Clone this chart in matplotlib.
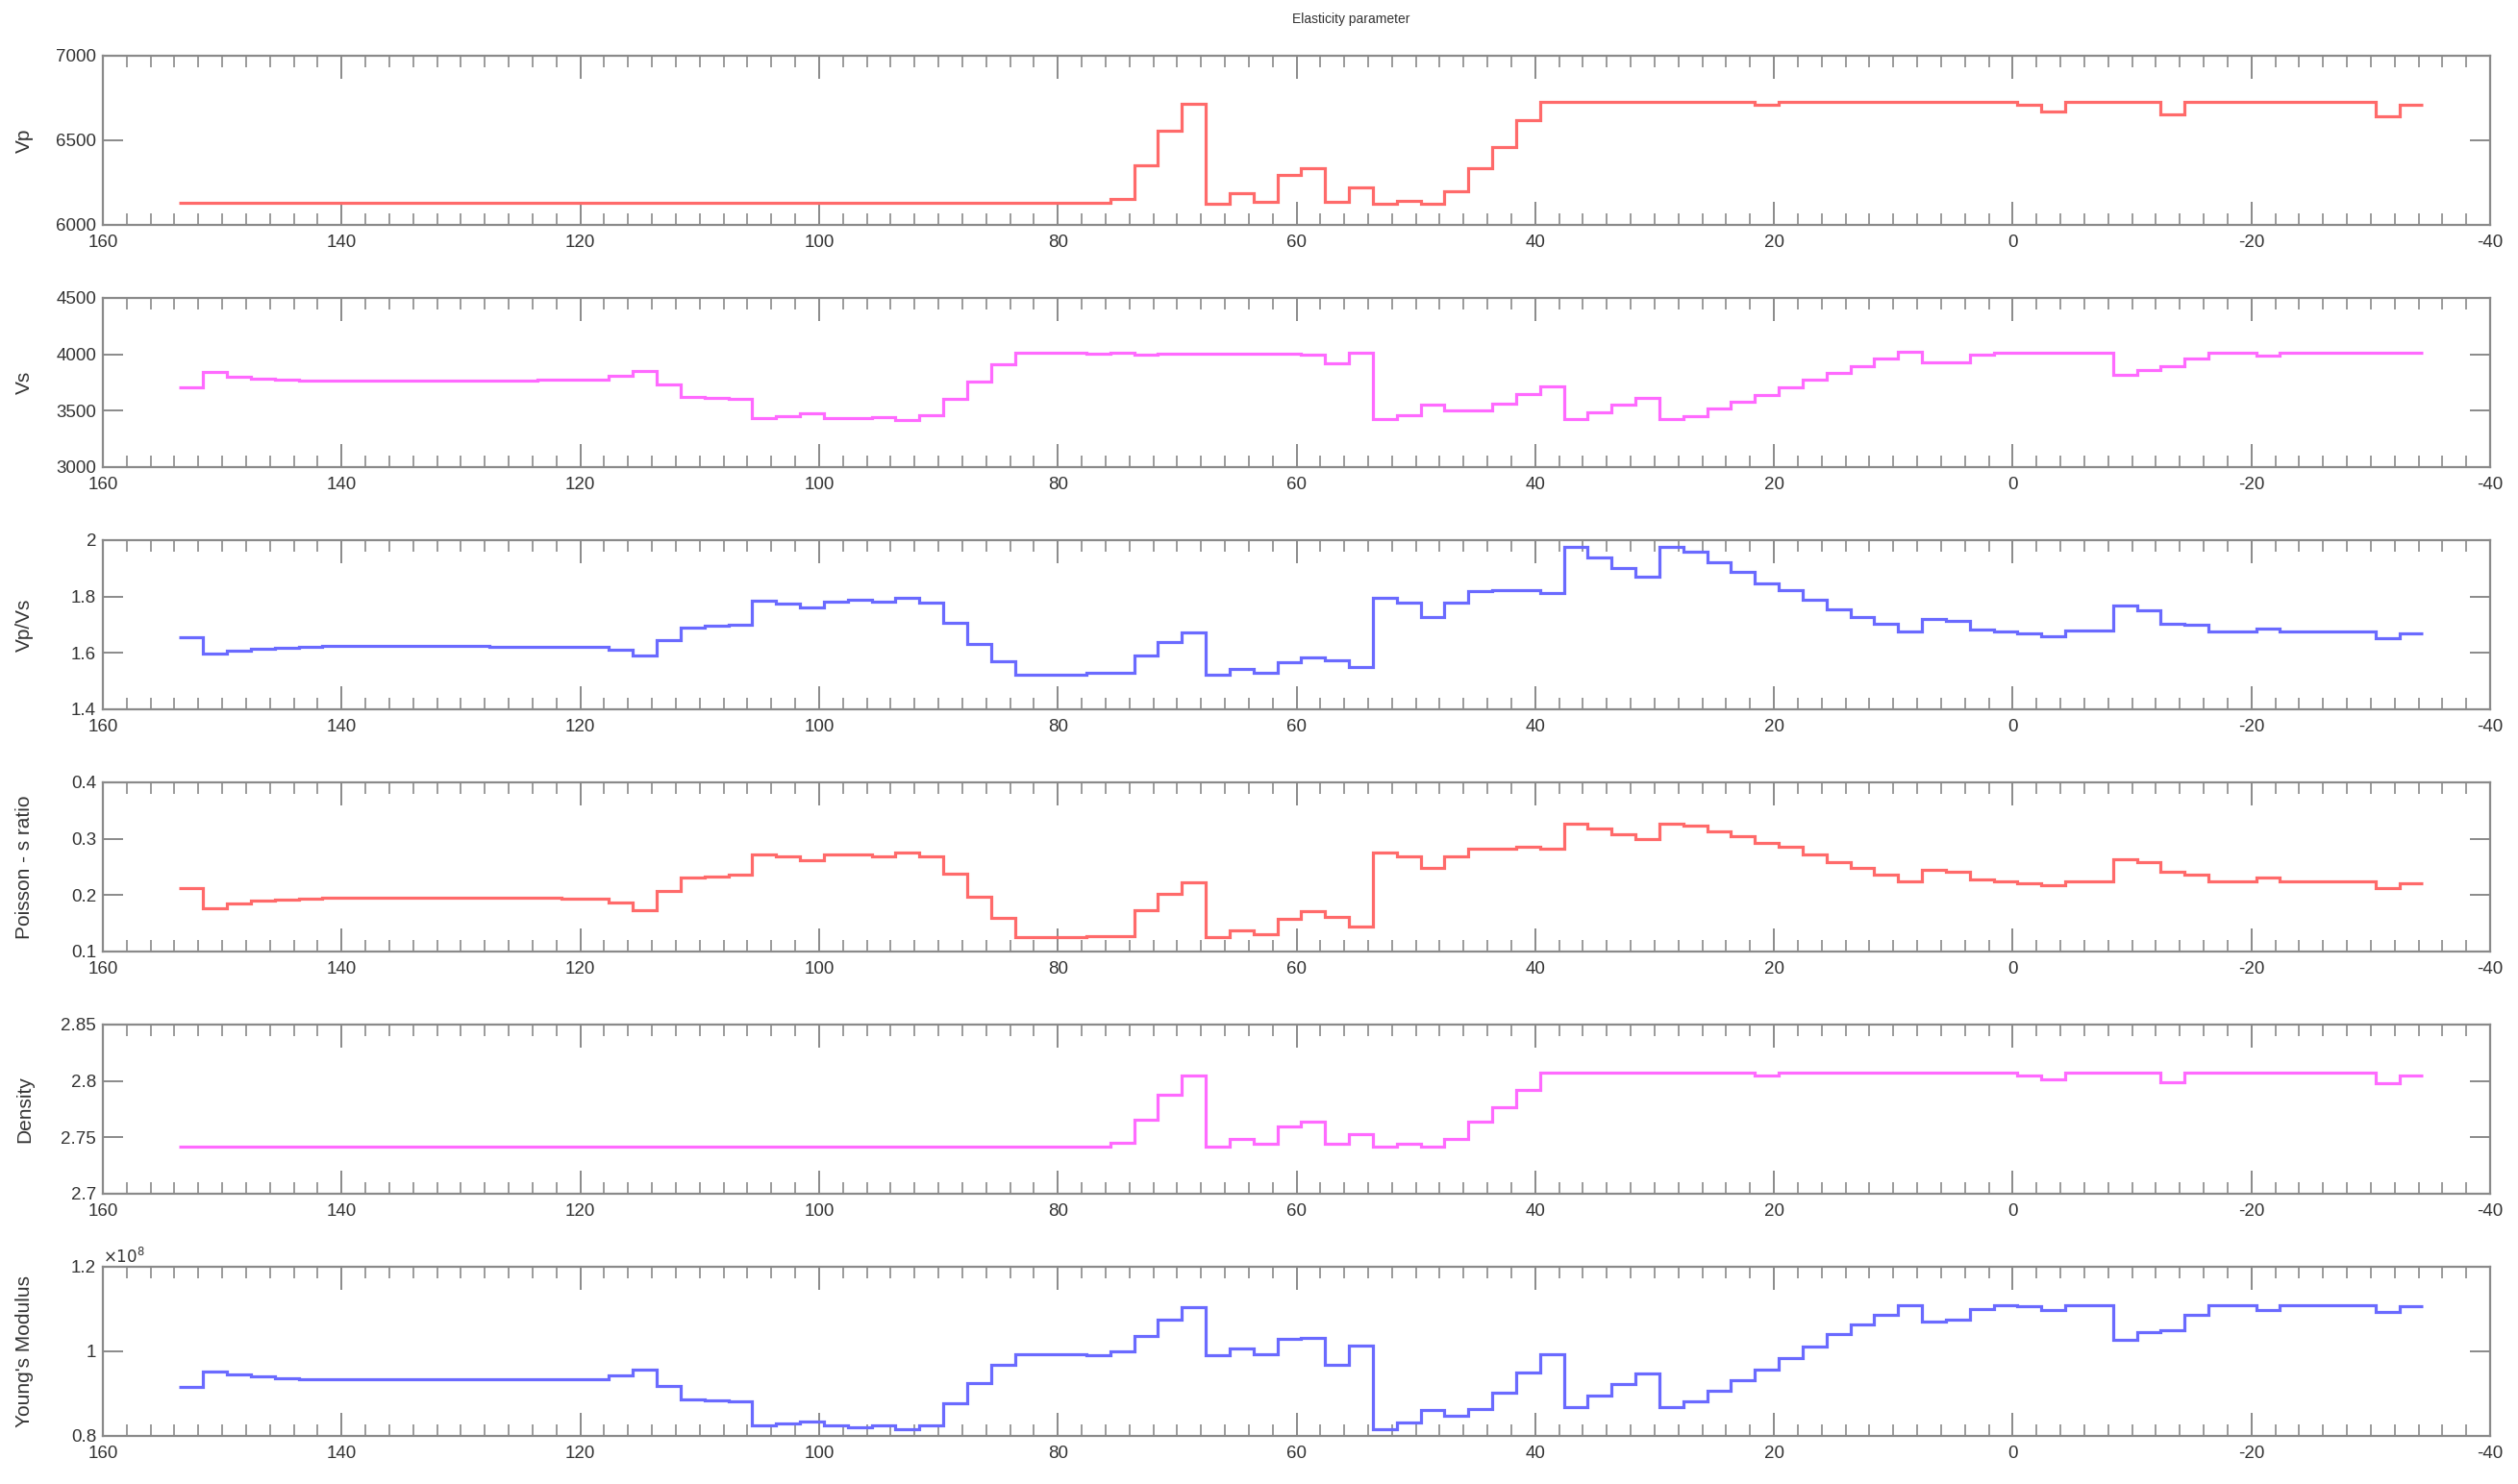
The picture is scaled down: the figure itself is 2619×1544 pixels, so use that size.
import matplotlib.pyplot as plt
import numpy as np
from matplotlib.ticker import MultipleLocator, FuncFormatter

# step edges (x grid, every 2 units from 153.6 down to -34.4)
x_start = 153.6
x_step = 2.0
n_steps = 94

vp = [6130, 6130, 6130, 6130, 6130, 6130, 6130, 6130, 6130, 6130,
      6130, 6130, 6130, 6130, 6130, 6130, 6130, 6130, 6130, 6130,
      6130, 6130, 6130, 6130, 6130, 6130, 6130, 6130, 6130, 6130,
      6130, 6130, 6130, 6130, 6130, 6130, 6130, 6130, 6130, 6155,
      6350, 6555, 6715, 6125, 6190, 6135, 6295, 6335, 6135, 6220,
      6125, 6140, 6125, 6200, 6335, 6460, 6620, 6730, 6730, 6730,
      6730, 6730, 6730, 6730, 6730, 6730, 6710, 6730, 6730, 6730,
      6730, 6730, 6730, 6730, 6730, 6730, 6730, 6710, 6670, 6730,
      6730, 6730, 6730, 6655, 6730, 6730, 6730, 6730, 6730, 6730,
      6730, 6730, 6640, 6710]

vs = [3705, 3845, 3805, 3780, 3775, 3770, 3768, 3765, 3765, 3765,
      3765, 3765, 3765, 3765, 3770, 3772, 3775, 3775, 3810, 3855,
      3735, 3625, 3615, 3608, 3432, 3455, 3477, 3437, 3435, 3440,
      3419, 3461, 3606, 3758, 3911, 4014, 4014, 4014, 4003, 4014,
      3994, 4008, 4008, 4008, 4008, 4005, 4005, 3994, 3917, 4014,
      3425, 3461, 3556, 3500, 3500, 3564, 3647, 3717, 3425, 3489,
      3556, 3611, 3425, 3455, 3517, 3578, 3642, 3704, 3774, 3838,
      3899, 3961, 4020, 3927, 3927, 3997, 4017, 4017, 4017, 4017,
      4017, 3816, 3858, 3899, 3961, 4017, 4017, 3992, 4017, 4017,
      4017, 4017, 4017, 4017]

vpvs = [1.655, 1.597, 1.608, 1.615, 1.618, 1.620, 1.625, 1.625, 1.625, 1.625,
        1.625, 1.625, 1.625, 1.623, 1.622, 1.622, 1.621, 1.620, 1.611, 1.591,
        1.646, 1.689, 1.695, 1.700, 1.785, 1.775, 1.763, 1.783, 1.789, 1.783,
        1.797, 1.779, 1.706, 1.631, 1.569, 1.523, 1.523, 1.523, 1.528, 1.531,
        1.591, 1.638, 1.674, 1.523, 1.543, 1.531, 1.566, 1.585, 1.574, 1.549,
        1.797, 1.779, 1.728, 1.779, 1.819, 1.823, 1.822, 1.811, 1.975, 1.939,
        1.900, 1.871, 1.975, 1.958, 1.922, 1.889, 1.846, 1.823, 1.789, 1.754,
        1.728, 1.703, 1.677, 1.720, 1.714, 1.683, 1.677, 1.669, 1.659, 1.678,
        1.678, 1.768, 1.751, 1.705, 1.699, 1.677, 1.677, 1.688, 1.677, 1.677,
        1.677, 1.677, 1.651, 1.671]

poisson = [0.212, 0.177, 0.185, 0.190, 0.192, 0.194, 0.196, 0.196, 0.196, 0.196,
           0.196, 0.196, 0.196, 0.195, 0.195, 0.195, 0.194, 0.194, 0.187, 0.173,
           0.207, 0.231, 0.233, 0.236, 0.272, 0.268, 0.262, 0.272, 0.273, 0.269,
           0.275, 0.269, 0.238, 0.198, 0.160, 0.125, 0.125, 0.125, 0.128, 0.128,
           0.173, 0.203, 0.223, 0.125, 0.138, 0.131, 0.158, 0.171, 0.162, 0.144,
           0.275, 0.268, 0.249, 0.268, 0.283, 0.283, 0.286, 0.282, 0.326, 0.319,
           0.308, 0.299, 0.326, 0.323, 0.313, 0.305, 0.292, 0.285, 0.272, 0.259,
           0.248, 0.236, 0.224, 0.245, 0.242, 0.228, 0.225, 0.221, 0.217, 0.225,
           0.225, 0.264, 0.258, 0.241, 0.237, 0.224, 0.224, 0.231, 0.225, 0.225,
           0.225, 0.225, 0.212, 0.221]

density = [2.742, 2.742, 2.742, 2.742, 2.742, 2.742, 2.742, 2.742, 2.742, 2.742,
           2.742, 2.742, 2.742, 2.742, 2.742, 2.742, 2.742, 2.742, 2.742, 2.742,
           2.742, 2.742, 2.742, 2.742, 2.742, 2.742, 2.742, 2.742, 2.742, 2.742,
           2.742, 2.742, 2.742, 2.742, 2.742, 2.742, 2.742, 2.742, 2.742, 2.745,
           2.766, 2.788, 2.805, 2.742, 2.749, 2.744, 2.760, 2.764, 2.744, 2.753,
           2.742, 2.744, 2.742, 2.749, 2.764, 2.777, 2.792, 2.807, 2.807, 2.807,
           2.807, 2.807, 2.807, 2.807, 2.807, 2.807, 2.805, 2.807, 2.807, 2.807,
           2.807, 2.807, 2.807, 2.807, 2.807, 2.807, 2.807, 2.805, 2.801, 2.807,
           2.807, 2.807, 2.807, 2.799, 2.807, 2.807, 2.807, 2.807, 2.807, 2.807,
           2.807, 2.807, 2.798, 2.805]

# Young's modulus in units of 1e8
youngs_e8 = [0.915, 0.952, 0.945, 0.940, 0.937, 0.935, 0.933, 0.933, 0.933, 0.933,
             0.933, 0.933, 0.933, 0.933, 0.933, 0.934, 0.934, 0.934, 0.943, 0.956,
             0.919, 0.887, 0.885, 0.881, 0.824, 0.830, 0.835, 0.824, 0.820, 0.824,
             0.815, 0.826, 0.877, 0.925, 0.969, 0.994, 0.994, 0.994, 0.990, 1.000,
             1.036, 1.076, 1.105, 0.992, 1.007, 0.994, 1.030, 1.032, 0.969, 1.013,
             0.816, 0.831, 0.862, 0.847, 0.863, 0.902, 0.950, 0.994, 0.868, 0.895,
             0.923, 0.948, 0.869, 0.881, 0.906, 0.931, 0.957, 0.984, 1.011, 1.041,
             1.064, 1.087, 1.108, 1.070, 1.074, 1.101, 1.108, 1.106, 1.098, 1.108,
             1.108, 1.028, 1.045, 1.051, 1.087, 1.108, 1.108, 1.097, 1.108, 1.108,
             1.108, 1.108, 1.093, 1.106]

red = '#ff6a6a'
magenta = '#ff6aff'
blue = '#6a6aff'
axis_gray = '#8a8a8a'
label_gray = '#333333'

panels = [
    ('Vp', vp, red, (6000, 7000), [6000, 6500, 7000]),
    ('Vs', vs, magenta, (3000, 4500), [3000, 3500, 4000, 4500]),
    ('Vp/Vs', vpvs, blue, (1.4, 2.0), [1.4, 1.6, 1.8, 2.0]),
    ('Poisson - s ratio', poisson, red, (0.1, 0.4), [0.1, 0.2, 0.3, 0.4]),
    ('Density', density, magenta, (2.7, 2.85), [2.7, 2.75, 2.8, 2.85]),
    ("Young's Modulus", youngs_e8, blue, (0.8, 1.2), [0.8, 1.0, 1.2]),
]

plt.rcParams['font.family'] = ['Liberation Sans', 'DejaVu Sans']
plt.rcParams['axes.unicode_minus'] = False

W, H = 2619, 1544
fig = plt.figure(figsize=(W / 100, H / 100), dpi=100)
fig.patch.set_facecolor('white')

edges = x_start - x_step * np.arange(n_steps + 1)

left, width = 107, 2483
tops = [58, 310, 562, 814, 1066, 1318]
ph = 176

for (name, vals, col, ylim, yt), top in zip(panels, tops):
    ax = fig.add_axes([left / W, 1 - (top + ph) / H, width / W, ph / H])
    ax.stairs(vals, edges, color=col, linewidth=2.3, baseline=None, zorder=2)

    ax.set_xlim(160, -40)
    ax.set_ylim(*ylim)
    ax.xaxis.set_major_locator(MultipleLocator(20))
    ax.xaxis.set_minor_locator(MultipleLocator(2))
    ax.set_yticks(yt)
    ax.yaxis.set_major_formatter(FuncFormatter(lambda v, p: f'{v:g}'))
    ax.xaxis.set_major_formatter(FuncFormatter(lambda v, p: f'{v:g}'))

    ax.tick_params(which='both', direction='in', top=True, right=True,
                   color=axis_gray, labelcolor=label_gray, labelsize=13.5)
    ax.tick_params(which='major', length=17, width=1.4)
    ax.tick_params(which='minor', length=8.5, width=1.2)
    ax.tick_params(axis='y', which='major', length=15, pad=5)
    ax.tick_params(axis='x', which='major', pad=7)
    for sp in ax.spines.values():
        sp.set_color(axis_gray)
        sp.set_linewidth(1.6)

    ax.set_ylabel(name, fontsize=15, color=label_gray)
    ax.yaxis.set_label_coords(-0.029, 0.5)

    if name.startswith('Young'):
        ax.text(0.0, 1.005, r'$\times10^{8}$', transform=ax.transAxes,
                ha='left', va='bottom', fontsize=12, color=label_gray)

fig.text(1405 / W, 1 - 20 / H, 'Elasticity parameter', ha='center', va='center',
         fontsize=10, color='#333333')

fig.savefig('out.png', dpi=100)
